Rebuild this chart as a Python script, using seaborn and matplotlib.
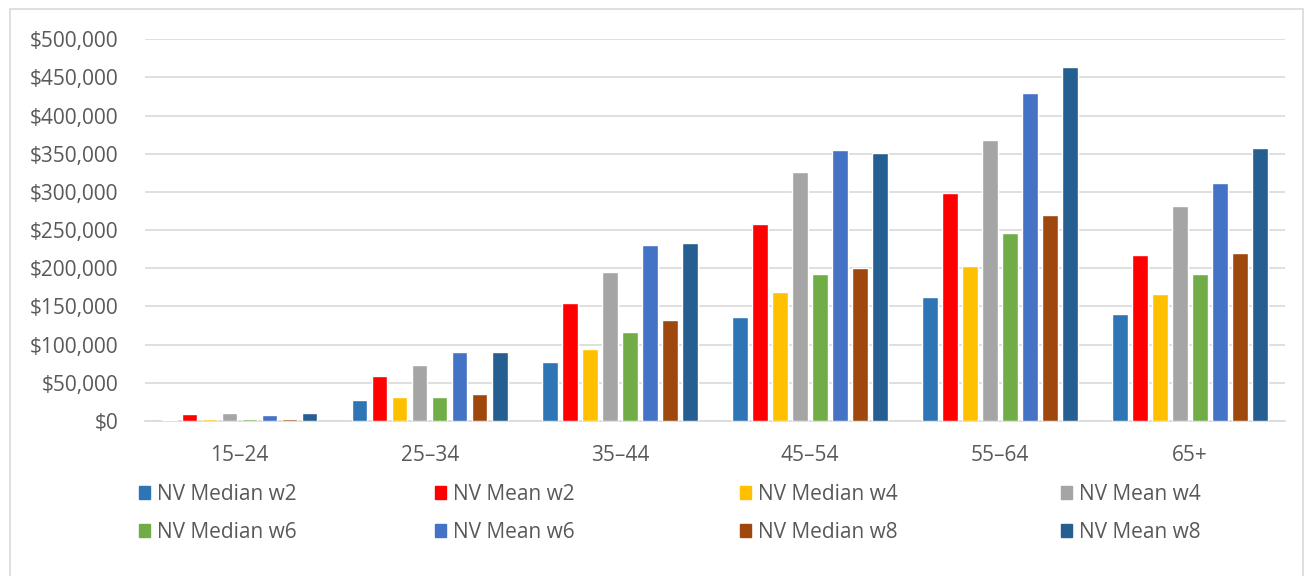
import matplotlib.pyplot as plt
import matplotlib.patches as mpatches
import seaborn as sns
import pandas as pd
from matplotlib.ticker import FuncFormatter

# age groups and series (values in dollars)
ages = ["15–24", "25–34", "35–44", "45–54", "55–64", "65+"]
series = ["NV Median w2", "NV Mean w2", "NV Median w4", "NV Mean w4",
          "NV Median w6", "NV Mean w6", "NV Median w8", "NV Mean w8"]

median_w2 = [2000, 27000, 77000, 136000, 162000, 140000]
mean_w2 = [9000, 59000, 154000, 258000, 298000, 217000]
median_w4 = [3000, 31000, 94000, 169000, 203000, 167000]
mean_w4 = [10000, 74000, 195000, 326000, 368000, 282000]
median_w6 = [3000, 32000, 117000, 193000, 246000, 193000]
mean_w6 = [8000, 91000, 230000, 355000, 429000, 312000]
median_w8 = [3000, 35000, 132000, 200000, 270000, 220000]
mean_w8 = [10000, 91000, 233000, 351000, 463000, 358000]

colors = ["#2E75B6", "#FF0000", "#FFC000", "#A5A5A5",
          "#70AD47", "#4472C4", "#9E480E", "#255E91"]

values = [median_w2, mean_w2, median_w4, mean_w4,
          median_w6, mean_w6, median_w8, mean_w8]
rows = []
for name, vals in zip(series, values):
    for age, v in zip(ages, vals):
        rows.append({"age": age, "series": name, "value": v})
df = pd.DataFrame(rows)

sns.set_style("white")
plt.rcParams["font.family"] = ["Open Sans", "DejaVu Sans"]
text_color = "#595959"

fig = plt.figure(figsize=(13.14, 5.76), dpi=100)
ax = fig.add_axes([0.110, 0.269, 0.868, 0.663])

sns.barplot(df, x="age", y="value", hue="series", order=ages, hue_order=series,
            palette=colors, width=0.842, gap=0.22, ax=ax, saturation=1)

ax.set_ylim(0, 500000)
ax.set_yticks(range(0, 500001, 50000))
ax.yaxis.set_major_formatter(FuncFormatter(lambda v, p: f"${int(v):,}"))
ax.grid(axis="y", color="#D9D9D9", linewidth=1.2)
ax.set_axisbelow(True)
for s in ["top", "left", "right"]:
    ax.spines[s].set_visible(False)
ax.spines["bottom"].set_color("#D9D9D9")
ax.spines["bottom"].set_linewidth(1.2)
ax.spines["bottom"].set_zorder(0.5)
ax.tick_params(axis="both", length=0, labelsize=15, labelcolor=text_color)
ax.tick_params(axis="y", pad=19)
ax.tick_params(axis="x", pad=17)
ax.set_xlabel("")
ax.set_ylabel("")
ax.get_legend().remove()

# legend: Excel-style rows, four columns placed at measured positions
col_x = [139, 435, 740, 1061]
for i, x in enumerate(col_x):
    idx = [i, i + 4]
    handles = [mpatches.Patch(color=colors[j]) for j in idx]
    labels = [series[j] for j in idx]
    fig.legend(handles=handles, labels=labels, loc="upper left",
               bbox_to_anchor=(x / 1314, 1 - 484 / 576), frameon=False,
               fontsize=15, labelcolor=text_color, handlelength=0.55,
               handleheight=0.55, handletextpad=0.3, labelspacing=0.8,
               borderaxespad=0, borderpad=0)

# outer chart border
fig.add_artist(mpatches.Rectangle((10 / 1314, -0.01), 1293 / 1314, 1 - 9 / 576 + 0.01,
                                  transform=fig.transFigure, fill=False,
                                  edgecolor="#D9D9D9", linewidth=1.2))

fig.savefig("out.png", dpi=100)
